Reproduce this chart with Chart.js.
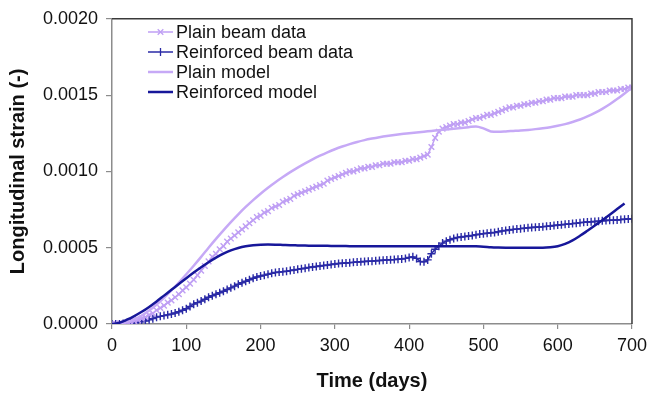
<!DOCTYPE html>
<html>
<head>
<meta charset="utf-8">
<title>Longitudinal strain</title>
<script src="https://cdn.jsdelivr.net/npm/chart.js@4.4.1/dist/chart.umd.min.js"></script>
<style>
  html, body { margin: 0; padding: 0; background: #fff; }
  #wrap { width: 653px; height: 397px; position: relative; }
</style>
</head>
<body>
<div id="wrap"><canvas id="strainChart"></canvas></div>
<script>
// ── Data ───────────────────────────────────────────────────
const dataDays = [
  0, 5, 10, 15, 20, 25, 30, 35, 40, 45, 50, 55, 60, 65, 70, 75, 80, 85, 90, 95,
  100, 105, 110, 115, 120, 125, 130, 135, 140, 145, 150, 155, 160, 165, 170, 175, 180, 185, 190, 195,
  200, 205, 210, 215, 220, 225, 230, 235, 240, 245, 250, 255, 260, 265, 270, 275, 280, 285, 290, 295,
  300, 305, 310, 315, 320, 325, 330, 335, 340, 345, 350, 355, 360, 365, 370, 375, 380, 385, 390, 395,
  400, 405, 410, 415, 420, 425, 430, 435, 440, 445, 450, 455, 460, 465, 470, 475, 480, 485, 490, 495,
  500, 505, 510, 515, 520, 525, 530, 535, 540, 545, 550, 555, 560, 565, 570, 575, 580, 585, 590, 595,
  600, 605, 610, 615, 620, 625, 630, 635, 640, 645, 650, 655, 660, 665, 670, 675, 680, 685, 690, 695,
  700
];

const plainData = [
  0.0, 0.0, 0.000005, 0.0, 0.00001, 0.000012, 0.00002, 0.000025, 0.000035, 0.000045,
  0.00006, 0.00007, 0.00009, 0.000105, 0.00012, 0.00014, 0.000155, 0.000175, 0.000195, 0.00022,
  0.00024, 0.000265, 0.00029, 0.00032, 0.00035, 0.00038, 0.00041, 0.00044, 0.00046, 0.00049,
  0.00051, 0.00054, 0.00056, 0.00058, 0.0006, 0.00062, 0.00064, 0.00066, 0.00068, 0.0007,
  0.00071, 0.00073, 0.00074, 0.00076, 0.00077, 0.00078, 0.0008, 0.00081, 0.00082, 0.00084,
  0.00085, 0.00086, 0.00087, 0.00088, 0.00089, 0.0009, 0.00091, 0.00092, 0.00094, 0.00095,
  0.00096, 0.00097, 0.00098, 0.00099, 0.001, 0.001, 0.00101, 0.00102, 0.00102, 0.00103,
  0.00103, 0.00104, 0.00104, 0.00105, 0.00105, 0.00105, 0.00106, 0.00106, 0.00106, 0.00107,
  0.00107, 0.00108, 0.00108, 0.00109, 0.0011, 0.00111, 0.00116, 0.00122, 0.00126, 0.00128,
  0.00129, 0.0013, 0.00131, 0.00131, 0.00132, 0.00132, 0.00133, 0.00134, 0.00135, 0.00135,
  0.00136, 0.00137, 0.00137, 0.00138, 0.00139, 0.0014, 0.00141, 0.00142, 0.00142, 0.00143,
  0.00143, 0.00144, 0.00144, 0.00145, 0.00145, 0.00146, 0.00146, 0.00147, 0.00147, 0.00148,
  0.00148, 0.00148, 0.00149, 0.00149, 0.00149, 0.0015, 0.0015, 0.0015, 0.0015, 0.00151,
  0.00151, 0.00152, 0.00152, 0.00152, 0.00153, 0.00153, 0.00153, 0.00154, 0.00154, 0.00155,
  0.00155
];

const reinforcedData = [
  0.0, 0.0, 0.0, 0.000003, 0.000005, 0.000008, 0.00001, 0.000012, 0.000015, 0.00002,
  0.000028, 0.000035, 0.000045, 0.00005, 0.000055, 0.00006, 0.000065, 0.000072, 0.00008, 0.00009,
  0.0001, 0.000115, 0.00013, 0.00014, 0.00015, 0.000162, 0.000175, 0.000185, 0.000195, 0.000205,
  0.000215, 0.000226, 0.000237, 0.000248, 0.00026, 0.00027, 0.00028, 0.00029, 0.0003, 0.000308,
  0.000315, 0.00032, 0.000326, 0.000332, 0.000337, 0.00034, 0.000343, 0.000346, 0.00035, 0.000354,
  0.000358, 0.000362, 0.000366, 0.00037, 0.000374, 0.000377, 0.00038, 0.000383, 0.000386, 0.00039,
  0.000393, 0.000396, 0.000398, 0.0004, 0.000402, 0.000404, 0.000406, 0.000408, 0.00041, 0.000411,
  0.000412, 0.000414, 0.000416, 0.000418, 0.00042, 0.000421, 0.000422, 0.000424, 0.000426, 0.00043,
  0.000436, 0.00044, 0.00043, 0.00041, 0.000408, 0.00042, 0.00046, 0.00049, 0.00051, 0.00053,
  0.000543, 0.000552, 0.00056, 0.000567, 0.00057, 0.000573, 0.000577, 0.00058, 0.000585, 0.000589,
  0.000592, 0.000595, 0.000598, 0.0006, 0.000605, 0.00061, 0.000613, 0.000616, 0.00062, 0.000622,
  0.000625, 0.000628, 0.00063, 0.000632, 0.000634, 0.000636, 0.000638, 0.00064, 0.000642, 0.000645,
  0.000648, 0.00065, 0.000653, 0.000655, 0.000658, 0.00066, 0.000664, 0.000666, 0.000668, 0.00067,
  0.000672, 0.000674, 0.000676, 0.000678, 0.00068, 0.00068, 0.000682, 0.000684, 0.000686, 0.000688,
  0.00069
];

const modelDays = [
  0, 10, 20, 30, 40, 50, 60, 70, 80, 90, 100, 110, 120, 130, 140, 150, 160, 170, 180, 190,
  200, 210, 220, 230, 240, 250, 260, 270, 280, 290, 300, 310, 320, 330, 340, 350, 360, 370, 380, 390,
  400, 410, 420, 430, 440, 450, 460, 470, 480, 490, 500, 510, 520, 530, 540, 550, 560, 570, 580, 590,
  600, 610, 620, 630, 640, 650, 660, 670, 680, 690, 700
];

const plainModel = [
  0.0, 0.000004, 0.000014, 0.00003, 0.000055, 0.000088, 0.000128, 0.000172, 0.00022, 0.000272,
  0.000326, 0.000382, 0.00044, 0.0005, 0.000558, 0.000614, 0.000668, 0.000719, 0.000767, 0.000812,
  0.000854, 0.000893, 0.000929, 0.000963, 0.000995, 0.001025, 0.001053, 0.001079, 0.001103, 0.001125,
  0.001145, 0.001163, 0.001179, 0.001193, 0.001205, 0.001215, 0.001224, 0.001232, 0.001239, 0.001245,
  0.00125, 0.001255, 0.00126, 0.001265, 0.00127, 0.001275, 0.00128, 0.001285, 0.00129, 0.001295,
  0.001282, 0.001262, 0.00126, 0.001262, 0.001265, 0.001268, 0.001272, 0.001277, 0.001283, 0.00129,
  0.001299, 0.00131, 0.001324, 0.00134, 0.00136, 0.001383, 0.00141, 0.00144, 0.001474, 0.001511,
  0.00155
];

// ends at 690 days
const reinforcedModel = [
  0.0, 0.000008, 0.000028, 0.000052, 0.00008, 0.000112, 0.000148, 0.000186, 0.000224, 0.000262,
  0.0003, 0.000337, 0.000372, 0.000405, 0.000435, 0.000461, 0.000482, 0.000498, 0.000509, 0.000516,
  0.00052, 0.000521, 0.00052, 0.000518, 0.000516, 0.000515, 0.000514, 0.000513, 0.000512, 0.000512,
  0.000511, 0.000511, 0.00051, 0.00051, 0.00051, 0.00051, 0.00051, 0.00051, 0.00051, 0.00051,
  0.00051, 0.00051, 0.00051, 0.00051, 0.00051, 0.00051, 0.00051, 0.00051, 0.00051, 0.000509,
  0.000507, 0.000503, 0.000501, 0.0005, 0.0005, 0.0005, 0.0005, 0.0005, 0.0005, 0.000503,
  0.00051, 0.000525, 0.000548, 0.000578, 0.000611, 0.000645, 0.00068, 0.000716, 0.000753, 0.00079
];

const xTicks = [0, 100, 200, 300, 400, 500, 600, 700];
const yTicks = [0, 0.0005, 0.001, 0.0015, 0.002];

const seriesNames = ['Plain beam data', 'Reinforced beam data', 'Plain model', 'Reinforced model'];

// ── Colours ────────────────────────────────────────────────
const LILAC = '#bf9ff4';
const LILAC_LINE = '#c6a9f6';
const NAVY = '#2a2aa6';
const NAVY_LINE = '#17179a';
const AXIS_GREY = '#8c8c8c';
const FRAME = '#3a3a3a';
const FONT = 'Liberation Sans, Arial, Helvetica, sans-serif';

function toPoints(xs, ys) {
    return ys.map((v, i) => ({ x: xs[i], y: v }));
}

// ── Frame (top + right) ────────────────────────────────────
const framePlugin = {
    id: 'frame',
    afterDatasetsDraw(chart) {
        const { ctx, chartArea: a } = chart;
        ctx.save();
        ctx.strokeStyle = FRAME;
        ctx.lineWidth = 1.5;
        ctx.beginPath();
        ctx.moveTo(a.left, a.top);
        ctx.lineTo(a.right, a.top);
        ctx.lineTo(a.right, a.bottom);
        ctx.stroke();
        ctx.restore();
    }
};

// ── Legend inside plot, top-left ───────────────────────────
const insideLegend = {
    id: 'insideLegend',
    afterDraw(chart) {
        const { ctx } = chart;
        const x0 = 148, x1 = 173, textX = 176;
        let y = 32;
        ctx.save();
        ctx.font = '18px ' + FONT;
        ctx.textBaseline = 'middle';
        chart.data.datasets.forEach(ds => {
            ctx.strokeStyle = ds.borderColor;
            ctx.lineWidth = ds.legendWidth;
            ctx.beginPath();
            ctx.moveTo(x0, y);
            ctx.lineTo(x1, y);
            ctx.stroke();
            if (ds.pointRadius > 0) {
                ctx.lineWidth = 1.3;
                const r = ds.pointRadius;
                ctx.beginPath();
                if (ds.pointStyle === 'crossRot') {
                    ctx.moveTo(160.5 - r * 0.7, y - r * 0.7); ctx.lineTo(160.5 + r * 0.7, y + r * 0.7);
                    ctx.moveTo(160.5 + r * 0.7, y - r * 0.7); ctx.lineTo(160.5 - r * 0.7, y + r * 0.7);
                } else {
                    ctx.moveTo(160.5, y - r); ctx.lineTo(160.5, y + r);
                }
                ctx.stroke();
            }
            ctx.fillStyle = '#111';
            ctx.fillText(ds.label, textX, y + 1);
            y += 20;
        });
        ctx.restore();
    }
};

// ── Chart ──────────────────────────────────────────────────
const canvas = document.getElementById('strainChart');
new Chart(canvas, {
    type: 'line',
    data: {
        datasets: [
            {
                label: seriesNames[0],
                data: toPoints(dataDays, plainData),
                borderColor: LILAC,
                backgroundColor: LILAC,
                borderWidth: 1.5,
                legendWidth: 1.5,
                pointStyle: 'crossRot',
                pointRadius: 4,
                pointBorderWidth: 1.4,
                tension: 0,
                order: 2
            },
            {
                label: seriesNames[1],
                data: toPoints(dataDays, reinforcedData),
                borderColor: NAVY,
                backgroundColor: NAVY,
                borderWidth: 1.5,
                legendWidth: 1.5,
                pointStyle: 'cross',
                pointRadius: 4,
                pointBorderWidth: 1.4,
                tension: 0,
                order: 2
            },
            {
                label: seriesNames[2],
                data: toPoints(modelDays, plainModel),
                borderColor: LILAC_LINE,
                borderWidth: 2.5,
                legendWidth: 2.5,
                pointRadius: 0,
                cubicInterpolationMode: 'monotone',
                order: 1
            },
            {
                label: seriesNames[3],
                data: toPoints(modelDays, reinforcedModel),
                borderColor: NAVY_LINE,
                borderWidth: 2.5,
                legendWidth: 2.5,
                pointRadius: 0,
                cubicInterpolationMode: 'monotone',
                order: 0
            }
        ]
    },
    options: {
        responsive: true,
        maintainAspectRatio: false,
        animation: false,
        layout: { padding: { top: 15, right: 17, left: 0, bottom: 0 } },
        plugins: {
            legend: { display: false },
            tooltip: { enabled: false }
        },
        scales: {
            x: {
                type: 'linear',
                min: 0,
                max: 700,
                afterBuildTicks: axis => { axis.ticks = xTicks.map(v => ({ value: v })); },
                afterFit: axis => { axis.height = 73; },
                border: { color: AXIS_GREY, width: 1.5 },
                grid: { drawOnChartArea: false, drawTicks: true, tickLength: 5, color: AXIS_GREY, lineWidth: 1.2 },
                ticks: { color: '#111', font: { family: FONT, size: 18 }, padding: 6, maxRotation: 0 },
                title: {
                    display: true,
                    text: 'Time (days)',
                    color: '#111',
                    font: { family: FONT, size: 20, weight: 'bold' },
                    padding: { top: 0, bottom: 4 }
                }
            },
            y: {
                type: 'linear',
                min: 0,
                max: 0.002,
                afterBuildTicks: axis => { axis.ticks = yTicks.map(v => ({ value: v })); },
                afterFit: axis => { axis.width = 112; },
                border: { color: AXIS_GREY, width: 1.5 },
                grid: { drawOnChartArea: false, drawTicks: true, tickLength: 6, color: AXIS_GREY, lineWidth: 1.2 },
                ticks: {
                    color: '#111',
                    font: { family: FONT, size: 18 },
                    padding: 8,
                    callback: v => Number(v).toFixed(4)
                },
                title: {
                    display: true,
                    text: 'Longitudinal strain (-)',
                    color: '#111',
                    font: { family: FONT, size: 20, weight: 'bold' },
                    padding: { top: 6, bottom: 0 }
                }
            }
        }
    },
    plugins: [framePlugin, insideLegend]
});
</script>
</body>
</html>
